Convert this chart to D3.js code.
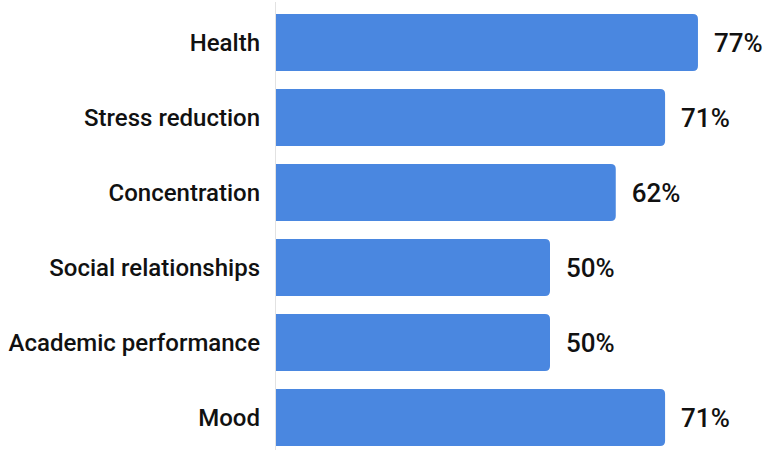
<!DOCTYPE html>
<html>
<head>
<meta charset="utf-8">
<script src="https://cdn.jsdelivr.net/npm/d3@7"></script>
<style>
  html, body { margin: 0; padding: 0; background: #fff; }
  svg { display: block; font-family: Roboto, "Noto Sans", sans-serif; }
</style>
</head>
<body>
<div id="chart"></div>
<script>
// --- Data ---
const categories = ["Health", "Stress reduction", "Concentration", "Social relationships", "Academic performance", "Mood"];
const percentages = [77, 71, 62, 50, 50, 71];

const width = 768, height = 450;
const axisX = 276;

const svg = d3.select("#chart").append("svg")
    .attr("width", width)
    .attr("height", height);

const xScale = d3.scaleLinear()
    .domain([0, 100])
    .range([axisX, axisX + 548]);

const yScale = d3.scaleBand()
    .domain(categories)
    .range([5, 455])
    .paddingInner(0.24)
    .paddingOuter(0.12);

// thin baseline on the left
svg.append("line")
    .attr("x1", axisX - 0.5).attr("x2", axisX - 0.5)
    .attr("y1", 2).attr("y2", height)
    .attr("stroke", "#e2e2e2")
    .attr("stroke-width", 1);

const rows = categories.map((c, i) => ({ cat: c, val: percentages[i] }));

// bars with rounded right end only
function barPath(x0, x1, y, h, r) {
    return `M${x0},${y}H${x1 - r}Q${x1},${y} ${x1},${y + r}V${y + h - r}Q${x1},${y + h} ${x1 - r},${y + h}H${x0}Z`;
}

svg.selectAll(".bar")
    .data(rows)
    .enter()
    .append("path")
    .attr("class", "bar")
    .attr("fill", "#4a87e0")
    .attr("d", d => barPath(xScale(0), xScale(d.val), yScale(d.cat), yScale.bandwidth(), 5));

// category labels
svg.selectAll(".cat")
    .data(rows)
    .enter()
    .append("text")
    .attr("class", "cat")
    .attr("x", axisX - 16)
    .attr("y", d => yScale(d.cat) + yScale.bandwidth() / 2)
    .attr("dy", "0.36em")
    .attr("text-anchor", "end")
    .attr("font-size", "24px")
    .attr("font-weight", 500)
    .attr("fill", "#111")
    .text(d => d.cat);

// value labels
svg.selectAll(".val")
    .data(rows)
    .enter()
    .append("text")
    .attr("class", "val")
    .attr("x", d => xScale(d.val) + 16)
    .attr("y", d => yScale(d.cat) + yScale.bandwidth() / 2)
    .attr("dy", "0.36em")
    .attr("font-size", "26px")
    .attr("font-weight", 500)
    .attr("fill", "#111")
    .text(d => d.val + "%");
</script>
</body>
</html>
